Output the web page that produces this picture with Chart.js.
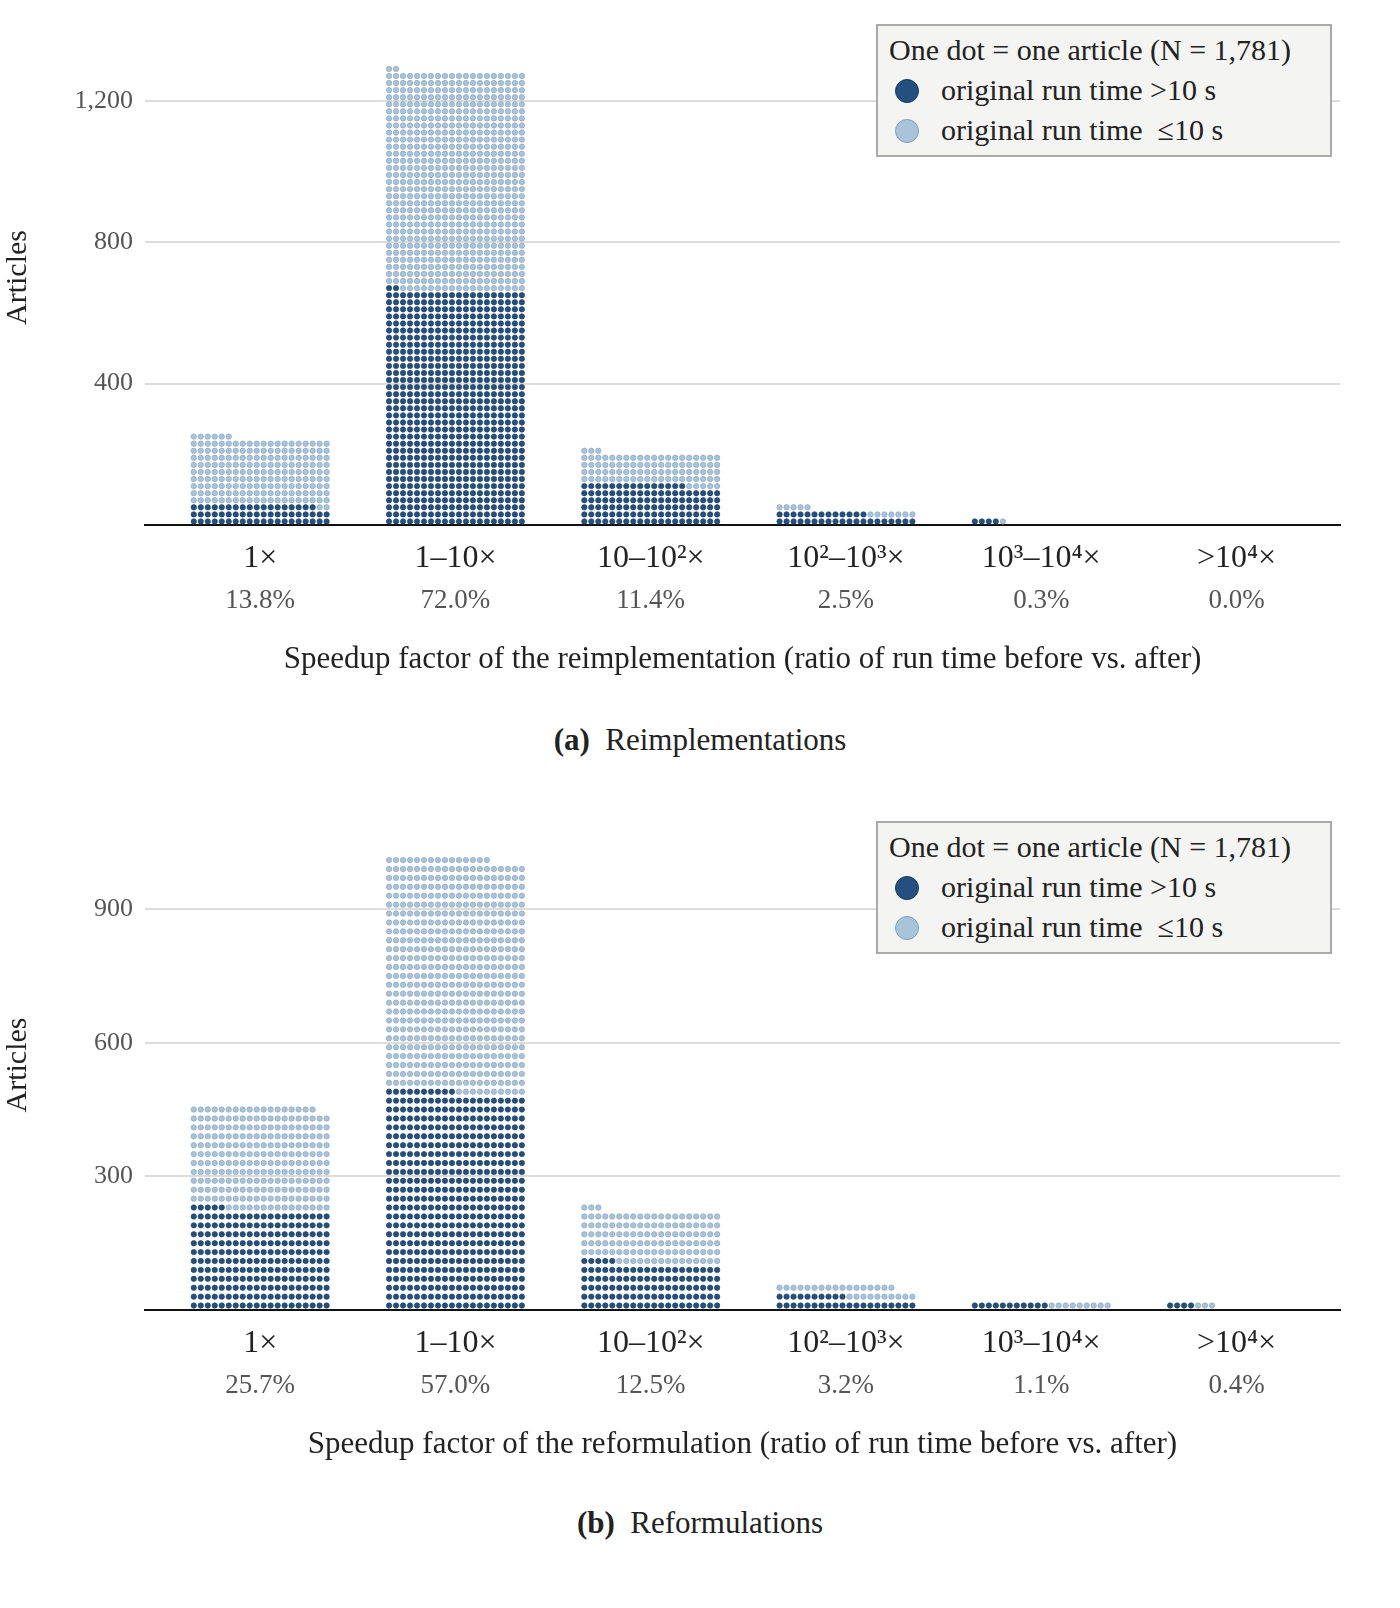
<!DOCTYPE html>
<html><head><meta charset="utf-8">
<script src="https://cdn.jsdelivr.net/npm/chart.js@4/dist/chart.umd.min.js"></script>
<style>
body{margin:0;width:1400px;height:1608px;background:#fff;font-family:"Liberation Serif",serif;position:relative}
.wrap{position:absolute;left:0;width:1400px}
.cap{position:absolute;width:1400px;left:0;text-align:center;font-size:31px;color:#222}
.leg{position:absolute;left:876px;width:456px;height:133px;background:#f4f4f2;border:2px solid #aaa;box-sizing:border-box;font-size:30px;color:#222;padding:4px 0 0 11px;line-height:40px}
.leg span.d{display:inline-block;width:22px;height:22px;border-radius:50%;margin:0 22px 0 6px;vertical-align:-3px}
</style></head><body>
<div class="wrap" style="top:0;height:700px"><canvas id="a"></canvas></div>
<div class="wrap" style="top:785px;height:700px"><canvas id="b"></canvas></div>
<div class="cap" style="top:722px"><b>(a)</b>&nbsp; Reimplementations</div>
<div class="cap" style="top:1505px"><b>(b)</b>&nbsp; Reformulations</div>
<div class="leg" style="top:24px">One dot = one article (N = 1,781)<br><span class="d" style="background:#24507f;border:1px solid #183a60"></span>original run time &gt;10 s<br><span class="d" style="background:#a9c3db;border:1px solid #7f9fbd"></span>original run time &nbsp;≤10 s</div>
<div class="leg" style="top:821px">One dot = one article (N = 1,781)<br><span class="d" style="background:#24507f;border:1px solid #183a60"></span>original run time &gt;10 s<br><span class="d" style="background:#a9c3db;border:1px solid #7f9fbd"></span>original run time &nbsp;≤10 s</div>
<script>
const categories = ["1×","1–10×","10–10²×","10²–10³×","10³–10⁴×",">10⁴×"];
const reimplDark = [58, 662, 115, 33, 4, 0];
const reimplLight = [188, 620, 88, 12, 1, 0];
const reimplPct = ["13.8%","72.0%","11.4%","2.5%","0.3%","0.0%"];
const reformDark = [225, 490, 105, 30, 11, 4];
const reformLight = [233, 525, 118, 27, 9, 3];
const reformPct = ["25.7%","57.0%","12.5%","3.2%","1.1%","0.4%"];
const PER_ROW = 20, DX = 0.0358;

function dots(dark, light){
  const d=[], l=[];
  dark.forEach((n,c)=>{
    const tot=n+light[c];
    for(let i=0;i<tot;i++){
      const col=i%PER_ROW,row=Math.floor(i/PER_ROW);
      const p={x:c+(col-(PER_ROW-1)/2)*DX,y:row*PER_ROW+PER_ROW/2};
      (i<n?d:l).push(p);
    }
  });
  return [d,l];
}
function make(id, dark, light, pct, ymax, step, title, topPad){
  const [d,l]=dots(dark,light);
  const labelPlugin={id:'xl',afterDraw(ch){
    const ctx=ch.ctx, x=ch.scales.x, b=ch.chartArea.bottom;
    ctx.save();ctx.textAlign='center';ctx.textBaseline='middle';
    categories.forEach((c,i)=>{
      const px=x.getPixelForValue(i);
      ctx.fillStyle='#222';ctx.font='32px "Liberation Serif"';ctx.fillText(c,px,b+34);
      ctx.fillStyle='#555';ctx.font='27px "Liberation Serif"';ctx.fillText(pct[i],px,b+76);
    });
    ctx.restore();
  }};
  new Chart(document.getElementById(id),{
    type:'scatter',
    data:{datasets:[
      {data:d,backgroundColor:'#24507f',borderColor:'#183a60',borderWidth:0.6,pointRadius:2.7},
      {data:l,backgroundColor:'#a9c3db',borderColor:'#7f9fbd',borderWidth:0.6,pointRadius:2.7}]},
    options:{animation:false,responsive:true,maintainAspectRatio:false,
      layout:{padding:{top:topPad,right:60,left:0,bottom:0}},
      plugins:{legend:{display:false},tooltip:{enabled:false}},
      scales:{
        x:{type:'linear',min:-0.59,max:5.53,grid:{display:false},border:{color:'#111',width:2},
           ticks:{display:false},
           title:{display:true,text:title,color:'#222',font:{family:'Liberation Serif',size:31},padding:{top:0,bottom:22}},
           afterFit(s){s.height=175;}},
        y:{min:0,max:ymax,grid:{color:c=>(c.tick&&c.tick.value===ymax)?'rgba(0,0,0,0)':'#dcdcdc',lineWidth:2,drawTicks:false},border:{display:false},
           ticks:{stepSize:step,color:'#555',padding:12,font:{family:'Liberation Serif',size:26},
             callback:v=>(v===0||v===ymax)?'':v.toLocaleString('en-US')},
           title:{display:true,text:'Articles',color:'#222',font:{family:'Liberation Serif',size:30},padding:{top:0,bottom:20}},
           afterFit(s){s.width=145;}}
      }},
    plugins:[labelPlugin]
  });
}
make('a',reimplDark,reimplLight,reimplPct,1400,400,'Speedup factor of the reimplementation (ratio of run time before vs. after)',30);
make('b',reformDark,reformLight,reformPct,1100,300,'Speedup factor of the reformulation (ratio of run time before vs. after)',35);
</script></body></html>
